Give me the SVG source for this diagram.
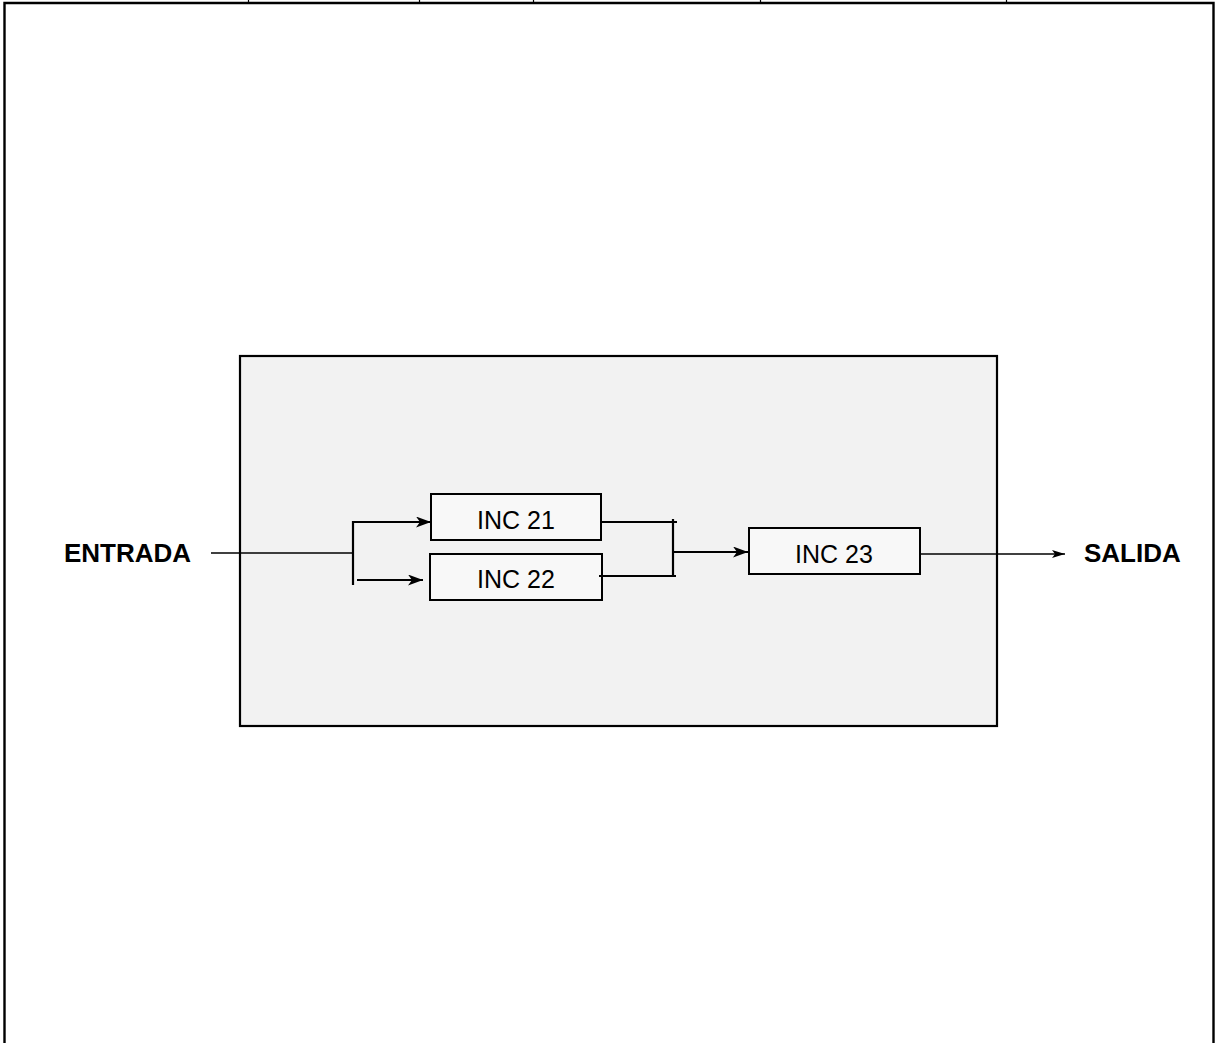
<svg xmlns="http://www.w3.org/2000/svg" width="1225" height="1043" viewBox="0 0 1225 1043">
  <style>
    .frame { fill: none; stroke: #000; stroke-width: 2.4; }
    .tick { stroke: #000; stroke-width: 1.2; }
    .box { fill: #f8f8f8; stroke: #000; stroke-width: 2; }
    .label { font-family: "Liberation Sans", Arial, sans-serif; font-size: 25px; fill: #000; text-anchor: middle; }
    .io { font-family: "Liberation Sans", Arial, sans-serif; font-size: 26px; font-weight: bold; fill: #000; }
    .wire { fill: none; stroke: #000; stroke-width: 1.6; }
    .wire2 { fill: none; stroke: #000; stroke-width: 2.2; }
  </style>
  <defs>
    <marker id="arr" markerUnits="userSpaceOnUse" markerWidth="16" markerHeight="11" refX="15" refY="5.5" orient="auto" viewBox="0 0 16 11">
      <path d="M0,0 L15,5.5 L0,11 L4,5.5 z" fill="#000"/>
    </marker>
    <marker id="arrs" markerUnits="userSpaceOnUse" markerWidth="14" markerHeight="8" refX="13" refY="4" orient="auto" viewBox="0 0 14 8">
      <path d="M0,0 L13,4 L0,8 L3,4 z" fill="#000"/>
    </marker>
  </defs>
  <rect width="1225" height="1043" fill="#fff"/>
  <g id="page-frame">
    <path class="frame" d="M4.5,1043 V3 H1213.5 V1043"/>
    <line class="tick" x1="248.5" y1="0" x2="248.5" y2="3"/>
    <line class="tick" x1="419.5" y1="0" x2="419.5" y2="3"/>
    <line class="tick" x1="533.5" y1="0" x2="533.5" y2="3"/>
    <line class="tick" x1="760.5" y1="0" x2="760.5" y2="3"/>
    <line class="tick" x1="1006.5" y1="0" x2="1006.5" y2="3"/>
  </g>
  <g id="container">
    <rect x="240" y="356" width="757" height="370" fill="#f2f2f2" stroke="#000" stroke-width="2.2"/>
  </g>
  <g id="inc21">
    <rect class="box" x="431" y="494" width="170" height="46"/>
    <text class="label" x="516" y="529">INC 21</text>
  </g>
  <g id="inc22">
    <rect class="box" x="430" y="554" width="172" height="46"/>
    <text class="label" x="516" y="588">INC 22</text>
  </g>
  <g id="inc23">
    <rect class="box" x="749" y="528" width="171" height="46"/>
    <text class="label" x="834" y="563">INC 23</text>
  </g>
  <g id="entrada">
    <text class="io" x="64" y="562">ENTRADA</text>
  </g>
  <g id="salida">
    <text class="io" x="1084" y="562">SALIDA</text>
  </g>
  <g id="connectors">
    <line class="wire" x1="211" y1="553" x2="353" y2="553"/>
    <line class="wire2" x1="353" y1="521" x2="353" y2="585"/>
    <polyline class="wire2" points="353,522 431,522" marker-end="url(#arr)"/>
    <line class="wire2" x1="357" y1="580" x2="423" y2="580" marker-end="url(#arr)"/>
    <line class="wire2" x1="601" y1="522" x2="677" y2="522"/>
    <line class="wire2" x1="599" y1="576" x2="676" y2="576"/>
    <line class="wire2" x1="673" y1="519" x2="673" y2="576"/>
    <line class="wire2" x1="673" y1="552" x2="748" y2="552" marker-end="url(#arr)"/>
    <line class="wire" x1="920" y1="554" x2="1065" y2="554" marker-end="url(#arrs)"/>
  </g>
</svg>
